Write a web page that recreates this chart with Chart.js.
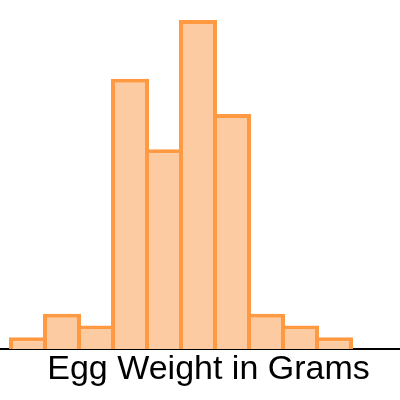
<!DOCTYPE html>
<html>
<head>
<meta charset="utf-8">
<script src="https://cdn.jsdelivr.net/npm/chart.js@4"></script>
<style>
 html, body { margin: 0; padding: 0; background: #fff; }
 #wrap { width: 400px; height: 400px; }
</style>
</head>
<body>
<div id="wrap"><canvas id="eggChart" width="400" height="400"></canvas></div>
<script>
 // histogram bins (bin index) and counts
 var binCenters = [1, 2, 3, 4, 5, 6, 7, 8, 9, 10];
 var counts = [1, 3, 2, 23, 17, 28, 20, 3, 2, 1];
 // en space in front nudges the centred title a little to the right, like the original
 var axisTitle = "\u2002Egg Weight in Grams";

 var points = binCenters.map(function (x, i) {
  return { x: x, y: counts[i] };
 });

 var ctx = document.getElementById("eggChart");

 new Chart(ctx, {
  type: "bar",
  data: {
   datasets: [
    {
     label: "Eggs",
     data: points,
     backgroundColor: "rgb(252, 203, 161)",
     borderColor: "rgb(255, 153, 66)",
     borderWidth: 4,
     borderSkipped: "start",
     categoryPercentage: 1,
     barPercentage: 38 / 34,
    },
   ],
  },
  options: {
   responsive: false,
   animation: false,
   layout: {
    padding: { top: 20, left: 0, right: 0, bottom: 7.6 },
   },
   plugins: {
    legend: { display: false },
    tooltip: { enabled: false },
   },
   scales: {
    x: {
     type: "linear",
     offset: false,
     min: 0.1765,
     max: 11.941,
     grid: { display: false, drawTicks: false },
     ticks: { display: false },
     border: { display: true, color: "#000", width: 2 },
     title: {
      display: true,
      text: axisTitle,
      color: "#000",
      font: { family: "'Liberation Sans', Arial, sans-serif", size: 34, lineHeight: 1.1 },
      padding: { top: 2, bottom: 4 },
     },
    },
    y: {
     display: false,
     min: 0,
     max: 28,
    },
   },
  },
 });
</script>
</body>
</html>
